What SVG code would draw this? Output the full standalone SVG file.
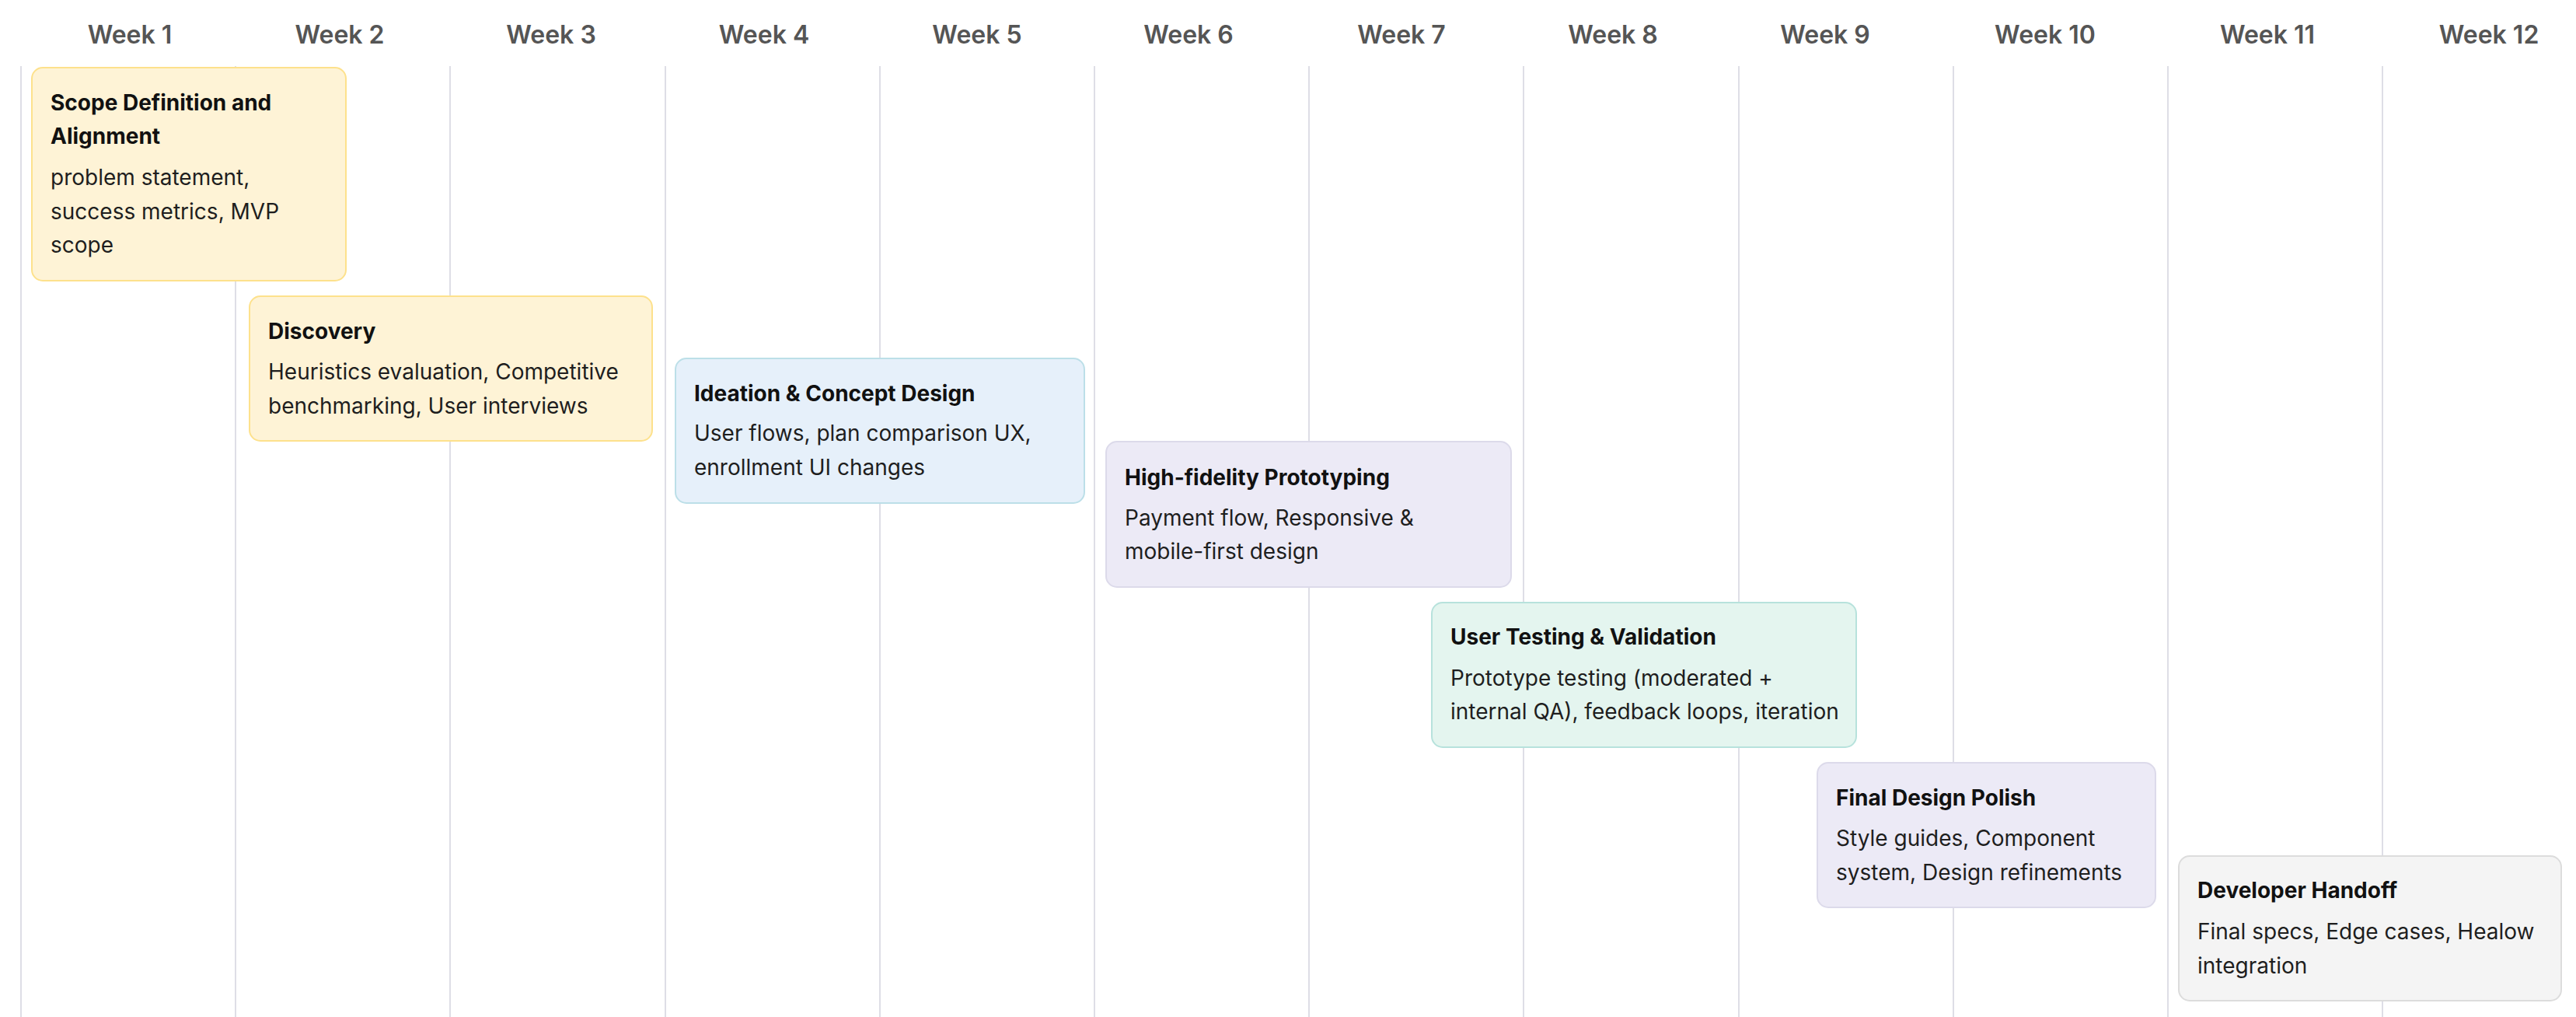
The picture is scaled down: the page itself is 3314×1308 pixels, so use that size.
<svg xmlns="http://www.w3.org/2000/svg" width="3314" height="1308" viewBox="0 0 3314 1308">
<style>
.hdr{font-family:Inter,"Liberation Sans",sans-serif;font-size:32px;font-weight:600;fill:#555555;text-anchor:middle}
.grid line{stroke:#DEDEE6;stroke-width:2}
.t{font-family:Inter,"Liberation Sans",sans-serif;font-size:28px;font-weight:700;fill:#111111}
.b{font-family:Inter,"Liberation Sans",sans-serif;font-size:28px;font-weight:400;fill:#1E1E1E}
.yel{fill:#FEF3D6;stroke:#FDE18C;stroke-width:2}
.blu{fill:#E6F0FA;stroke:#BCDFE8;stroke-width:2}
.lav{fill:#ECEAF6;stroke:#DCDAEA;stroke-width:2}
.mnt{fill:#E4F5EF;stroke:#B7E2DC;stroke-width:2}
.gry{fill:#F4F4F4;stroke:#DCDCDC;stroke-width:2}
</style>
<rect width="3314" height="1308" fill="#FFFFFF"/>
<g id="headers">
<text class="hdr" x="167" y="56">Week 1</text>
<text class="hdr" x="437" y="56">Week 2</text>
<text class="hdr" x="709" y="56">Week 3</text>
<text class="hdr" x="983" y="56">Week 4</text>
<text class="hdr" x="1257" y="56">Week 5</text>
<text class="hdr" x="1529" y="56">Week 6</text>
<text class="hdr" x="1803" y="56">Week 7</text>
<text class="hdr" x="2075" y="56">Week 8</text>
<text class="hdr" x="2348" y="56">Week 9</text>
<text class="hdr" x="2631" y="56">Week 10</text>
<text class="hdr" x="2917" y="56">Week 11</text>
<text class="hdr" x="3202" y="56">Week 12</text>
</g>
<g id="grid" class="grid">
<line x1="27" y1="85" x2="27" y2="1308"/>
<line x1="303" y1="85" x2="303" y2="1308"/>
<line x1="579" y1="85" x2="579" y2="1308"/>
<line x1="856" y1="85" x2="856" y2="1308"/>
<line x1="1132" y1="85" x2="1132" y2="1308"/>
<line x1="1408" y1="85" x2="1408" y2="1308"/>
<line x1="1684" y1="85" x2="1684" y2="1308"/>
<line x1="1960" y1="85" x2="1960" y2="1308"/>
<line x1="2237" y1="85" x2="2237" y2="1308"/>
<line x1="2513" y1="85" x2="2513" y2="1308"/>
<line x1="2789" y1="85" x2="2789" y2="1308"/>
<line x1="3065" y1="85" x2="3065" y2="1308"/>
</g>
<g id="connectors"></g>
<g id="node-scope">
<rect class="yel" x="41" y="87" width="404" height="274" rx="14"/>
<text class="t" x="65" y="142">Scope Definition and</text>
<text class="t" x="65" y="185">Alignment</text>
<text class="b" x="65" y="238">problem statement,</text>
<text class="b" x="65" y="282">success metrics, MVP</text>
<text class="b" x="65" y="325">scope</text>
</g>
<g id="node-discovery">
<rect class="yel" x="321" y="381" width="518" height="186" rx="14"/>
<text class="t" x="345" y="436">Discovery</text>
<text class="b" x="345" y="488">Heuristics evaluation, Competitive</text>
<text class="b" x="345" y="532">benchmarking, User interviews</text>
</g>
<g id="node-ideation">
<rect class="blu" x="869" y="461" width="526" height="186" rx="14"/>
<text class="t" x="893" y="516">Ideation &amp; Concept Design</text>
<text class="b" x="893" y="567">User flows, plan comparison UX,</text>
<text class="b" x="893" y="611">enrollment UI changes</text>
</g>
<g id="node-prototyping">
<rect class="lav" x="1423" y="568" width="521" height="187" rx="14"/>
<text class="t" x="1447" y="624">High-fidelity Prototyping</text>
<text class="b" x="1447" y="676">Payment flow, Responsive &amp;</text>
<text class="b" x="1447" y="719">mobile-first design</text>
</g>
<g id="node-testing">
<rect class="mnt" x="1842" y="775" width="546" height="186" rx="14"/>
<text class="t" x="1866" y="829">User Testing &amp; Validation</text>
<text class="b" x="1866" y="882">Prototype testing (moderated +</text>
<text class="b" x="1866" y="925">internal QA), feedback loops, iteration</text>
</g>
<g id="node-polish">
<rect class="lav" x="2338" y="981" width="435" height="186" rx="14"/>
<text class="t" x="2362" y="1036">Final Design Polish</text>
<text class="b" x="2362" y="1088">Style guides, Component</text>
<text class="b" x="2362" y="1132">system, Design refinements</text>
</g>
<g id="node-handoff">
<rect class="gry" x="2803" y="1101" width="492" height="186" rx="14"/>
<text class="t" x="2827" y="1155">Developer Handoff</text>
<text class="b" x="2827" y="1208">Final specs, Edge cases, Healow</text>
<text class="b" x="2827" y="1252">integration</text>
</g>
</svg>
